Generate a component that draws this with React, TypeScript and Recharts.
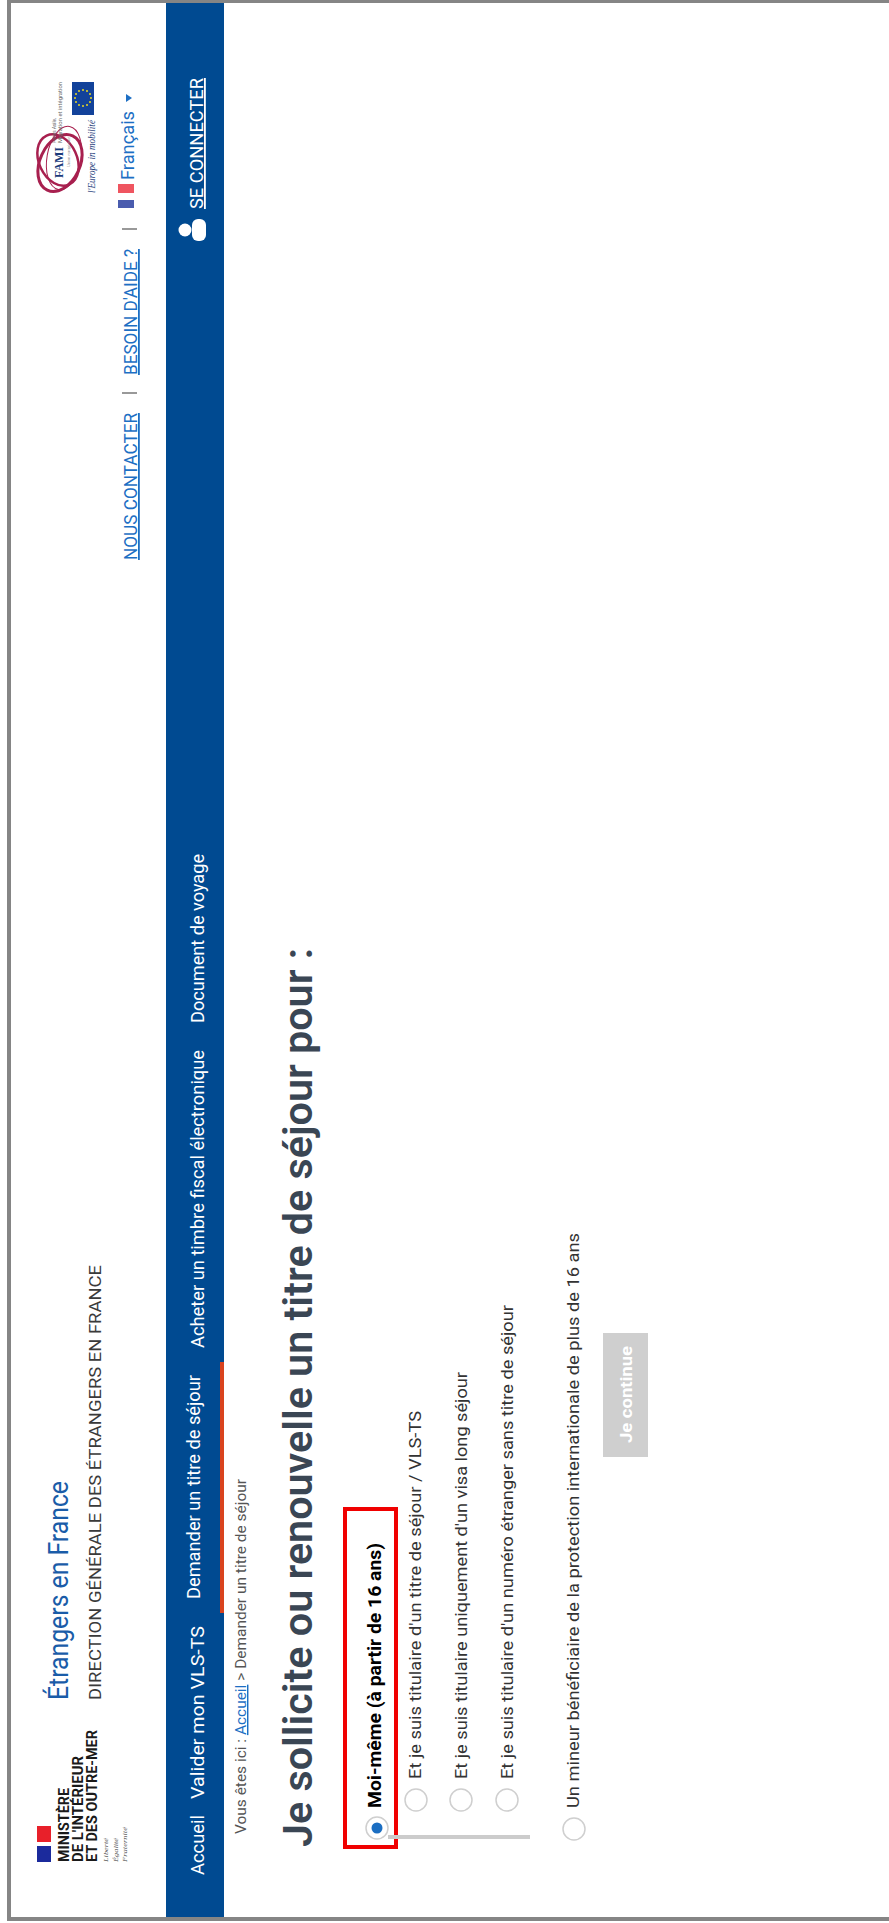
import React from 'react'
import { ComposedChart, Scatter, XAxis, YAxis, ReferenceArea, ReferenceLine } from 'recharts'

// the picture is a page rotated a quarter turn, so every label runs bottom to top
const CHART_W = 889
const CHART_H = 1923

const menuLabels = ['Accueil', 'Valider mon VLS-TS', 'Demander un titre de séjour', 'Acheter un timbre fiscal électronique', 'Document de voyage']
const menuX = [204, 204, 200, 204, 204]
const menuStart = [1875, 1799, 1599, 1348, 1023]
const menuEnd = [1815, 1626, 1375, 1050, 854]

const linkLabels = ['NOUS CONTACTER', "BESOIN D'AIDE ?"]
const linkX = [137, 137]
const linkStart = [560, 375]
const linkEnd = [413, 249]

const optionLabels = [
  "Et je suis titulaire d'un titre de séjour / VLS-TS",
  "Et je suis titulaire uniquement d'un visa long séjour",
  "Et je suis titulaire d'un numéro étranger sans titre de séjour",
  'Un mineur bénéficiaire de la protection internationale de plus de 16 ans',
]
const optionX = [421, 467, 513, 579]
const optionStart = [1779, 1779, 1779, 1808]
const optionEnd = [1411, 1372, 1305, 1233]

const radioX = [416, 461, 507, 574]
const radioY = [1800, 1800, 1800, 1829]

const ministryLabels = ['MINISTÈRE', "DE L'INTÉRIEUR", 'ET DES OUTRE-MER']
const ministryX = [69, 83, 97]
const ministryStart = [1862, 1862, 1862]
const ministryEnd = [1788, 1756, 1730]

const mottoLabels = ['Liberté', 'Égalité', 'Fraternité']
const mottoX = [108, 118, 127]
const mottoStart = [1862, 1862, 1862]
const mottoEnd = [1838, 1838, 1827]

const famiLabels = ['Fonds Asile,', 'Migration et intégration']
const famiX = [56, 62]
const famiStart = [143, 143]
const famiEnd = [118, 82]

const euStars = [
  { x: 83, y: 90 }, { x: 87, y: 91 }, { x: 90, y: 94 }, { x: 91, y: 98 }, { x: 90, y: 102 }, { x: 87, y: 105 },
  { x: 83, y: 106 }, { x: 79, y: 105 }, { x: 76, y: 102 }, { x: 75, y: 98 }, { x: 76, y: 94 }, { x: 79, y: 91 },
]
const famiRings = [
  { x: 60, y: 163, rx: 20, ry: 30, turn: 25, width: 3 },
  { x: 58, y: 160, rx: 19, ry: 27, turn: -25, width: 2.5 },
  { x: 64, y: 158, rx: 17, ry: 32, turn: 10, width: 1 },
]

const rows = (labels: string[], xs: number[], starts: number[], ends: number[]) =>
  labels.map((label, i) => ({ label, x: xs[i], y: starts[i], len: starts[i] - ends[i] }))

const UpText = ({ cx, cy, payload, size, color, weight, italic, under, family }: any) => (
  <text
    x={cx}
    y={cy}
    transform={`rotate(-90 ${cx} ${cy})`}
    fontFamily={family || 'Roboto'}
    fontSize={size}
    fontWeight={weight || 400}
    fontStyle={italic ? 'italic' : 'normal'}
    fill={color}
    textDecoration={under ? 'underline' : 'none'}
    textLength={payload.len}
    lengthAdjust="spacingAndGlyphs"
  >
    {payload.label}
  </text>
)

const textSeries = (data: any[], style: any) => (
  <Scatter data={data} isAnimationActive={false} shape={(p: any) => <UpText {...p} {...style} />} />
)

const Radio = ({ cx, cy, payload }: any) => (
  <g>
    <circle cx={cx} cy={cy} r={11} fill="#fff" stroke="#cfcfcf" strokeWidth={1.5} />
    {payload.on && <circle cx={cx} cy={cy} r={5.5} fill="#1b6ec2" />}
  </g>
)

const Person = ({ cx, cy }: any) => (
  <g fill="#fff">
    <circle cx={cx - 8} cy={cy} r={6.5} />
    <rect x={cx - 1} y={cy - 11} width={14} height={22} rx={6} />
  </g>
)

const Breadcrumb = ({ cx, cy }: any) => (
  <text
    x={cx}
    y={cy}
    transform={`rotate(-90 ${cx} ${cy})`}
    fontFamily="Roboto"
    fontSize={14.5}
    fill="#555"
    textLength={355}
    lengthAdjust="spacingAndGlyphs"
  >
    Vous êtes ici : <tspan fill="#1d6fc4" textDecoration="underline">Accueil</tspan> {'>'} Demander un titre de séjour
  </text>
)

export default function App() {
  return (
    <div style={{ position: 'absolute', left: 0, top: 0, width: CHART_W, height: CHART_H, background: '#fff' }}>
      <ComposedChart width={CHART_W} height={CHART_H} margin={{ top: 0, right: 0, bottom: 0, left: 0 }}>
        <XAxis type="number" dataKey="x" domain={[0, CHART_W]} hide />
        <YAxis type="number" dataKey="y" domain={[0, CHART_H]} reversed hide />

        {/* page frame */}
        <ReferenceArea x1={7} x2={CHART_W} y1={0} y2={3} fill="#858585" fillOpacity={1} stroke="none" />
        <ReferenceArea x1={7} x2={11} y1={0} y2={1921} fill="#858585" fillOpacity={1} stroke="none" />
        <ReferenceArea x1={7} x2={CHART_W} y1={1917} y2={1921} fill="#858585" fillOpacity={1} stroke="none" />

        {/* nav band */}
        <ReferenceArea x1={166} x2={224} y1={3} y2={1917} fill="#004a91" fillOpacity={1} stroke="none" />
        <ReferenceArea x1={220} x2={224} y1={1362} y2={1613} fill="#d9431e" fillOpacity={1} stroke="none" />

        {/* logos */}
        <ReferenceArea x1={37} x2={51} y1={1846} y2={1862} fill="#1b2a9c" fillOpacity={1} stroke="none" />
        <ReferenceArea x1={37} x2={51} y1={1826} y2={1842} fill="#e8202a" fillOpacity={1} stroke="none" />
        <ReferenceArea x1={72} x2={94} y1={82} y2={115} fill="#12429a" fillOpacity={1} stroke="none" />
        <ReferenceArea x1={118} x2={134} y1={184} y2={193} fill="#ef5560" fillOpacity={1} stroke="none" />
        <ReferenceArea x1={118} x2={134} y1={200} y2={208} fill="#4a5cae" fillOpacity={1} stroke="none" />
        <ReferenceLine segment={[{ x: 122, y: 229 }, { x: 137, y: 229 }]} stroke="#777" strokeWidth={1.5} />
        <ReferenceLine segment={[{ x: 122, y: 393 }, { x: 137, y: 393 }]} stroke="#777" strokeWidth={1.5} />

        {/* selection box, slider, button */}
        <ReferenceArea x1={345} x2={396} y1={1509} y2={1847} fill="none" stroke="#f00000" strokeWidth={4} />
        <ReferenceLine segment={[{ x: 388, y: 1837 }, { x: 530, y: 1837 }]} stroke="#cccccc" strokeWidth={4} />
        <ReferenceArea x1={603} x2={648} y1={1333} y2={1457} fill="#cfcfcf" fillOpacity={1} stroke="none" />

        <Scatter
          data={famiRings}
          isAnimationActive={false}
          shape={({ cx, cy, payload }: any) => (
            <ellipse
              cx={cx}
              cy={cy}
              rx={payload.rx}
              ry={payload.ry}
              transform={`rotate(${payload.turn} ${cx} ${cy})`}
              fill="none"
              stroke="#a8204f"
              strokeWidth={payload.width}
            />
          )}
        />
        <Scatter
          data={euStars}
          isAnimationActive={false}
          shape={({ cx, cy }: any) => <circle cx={cx} cy={cy} r={1} fill="#e8d820" />}
        />
        <Scatter data={[{ x: 193, y: 230 }]} isAnimationActive={false} shape={(p: any) => <Person {...p} />} />
        <Scatter
          data={[{ x: 129, y: 98 }]}
          isAnimationActive={false}
          shape={({ cx, cy }: any) => <path d={`M${cx - 3} ${cy - 4} L${cx + 3} ${cy} L${cx - 3} ${cy + 4} Z`} fill="#1d6fc4" />}
        />

        {textSeries(rows(['Étrangers en France'], [68], [1700], [1481]), { size: 28, color: '#1a5ca8' })}
        {textSeries(rows(['DIRECTION GÉNÉRALE DES ÉTRANGERS EN FRANCE'], [101], [1700], [1265]), { size: 17, color: '#3a3a3a' })}
        {textSeries(rows(ministryLabels, ministryX, ministryStart, ministryEnd), { size: 14, color: '#1a1a1a', weight: 700 })}
        {textSeries(rows(mottoLabels, mottoX, mottoStart, mottoEnd), { size: 7, color: '#555', italic: true, family: 'Liberation Serif' })}
        {textSeries(rows(famiLabels, famiX, famiStart, famiEnd), { size: 5, color: '#666' })}
        {textSeries(rows(['FAMI'], [63], [178], [147]), { size: 13, color: '#1b3a7a', weight: 700, family: 'Liberation Serif' })}
        {textSeries(rows(['Union européenne'], [70], [167], [137]), { size: 5, color: '#888', family: 'Liberation Serif' })}
        {textSeries(rows(["l'Europe in mobilité"], [95], [193], [120]), { size: 10, color: '#1b3a7a', italic: true, family: 'Liberation Serif' })}
        {textSeries(rows(linkLabels, linkX, linkStart, linkEnd), { size: 18, color: '#1d6fc4', under: true })}
        {textSeries(rows(['Français'], [134], [180], [111]), { size: 19, color: '#1d6fc4' })}
        {textSeries(rows(['SE CONNECTER'], [203], [209], [78]), { size: 18, color: '#ffffff', under: true })}
        {textSeries(rows(menuLabels, menuX, menuStart, menuEnd), { size: 18, color: '#ffffff' })}
        {textSeries(rows(['Je sollicite ou renouvelle un titre de séjour pour :'], [312], [1847], [948]), { size: 41, color: '#3a4654', weight: 600 })}
        {textSeries(rows(['Moi-même (à partir de 16 ans)'], [381], [1808], [1543]), { size: 18, color: '#000000', weight: 700 })}
        {textSeries(rows(optionLabels, optionX, optionStart, optionEnd), { size: 17, color: '#333333' })}
        {textSeries(rows(['Je continue'], [632], [1443], [1346]), { size: 16, color: '#ffffff', weight: 700 })}

        <Scatter data={[{ x: 246, y: 1834 }]} isAnimationActive={false} shape={(p: any) => <Breadcrumb {...p} />} />
        <Scatter
          data={[{ x: 377, y: 1828, on: true }, ...radioX.map((x, i) => ({ x, y: radioY[i], on: false }))]}
          isAnimationActive={false}
          shape={(p: any) => <Radio {...p} />}
        />
      </ComposedChart>
    </div>
  )
}
